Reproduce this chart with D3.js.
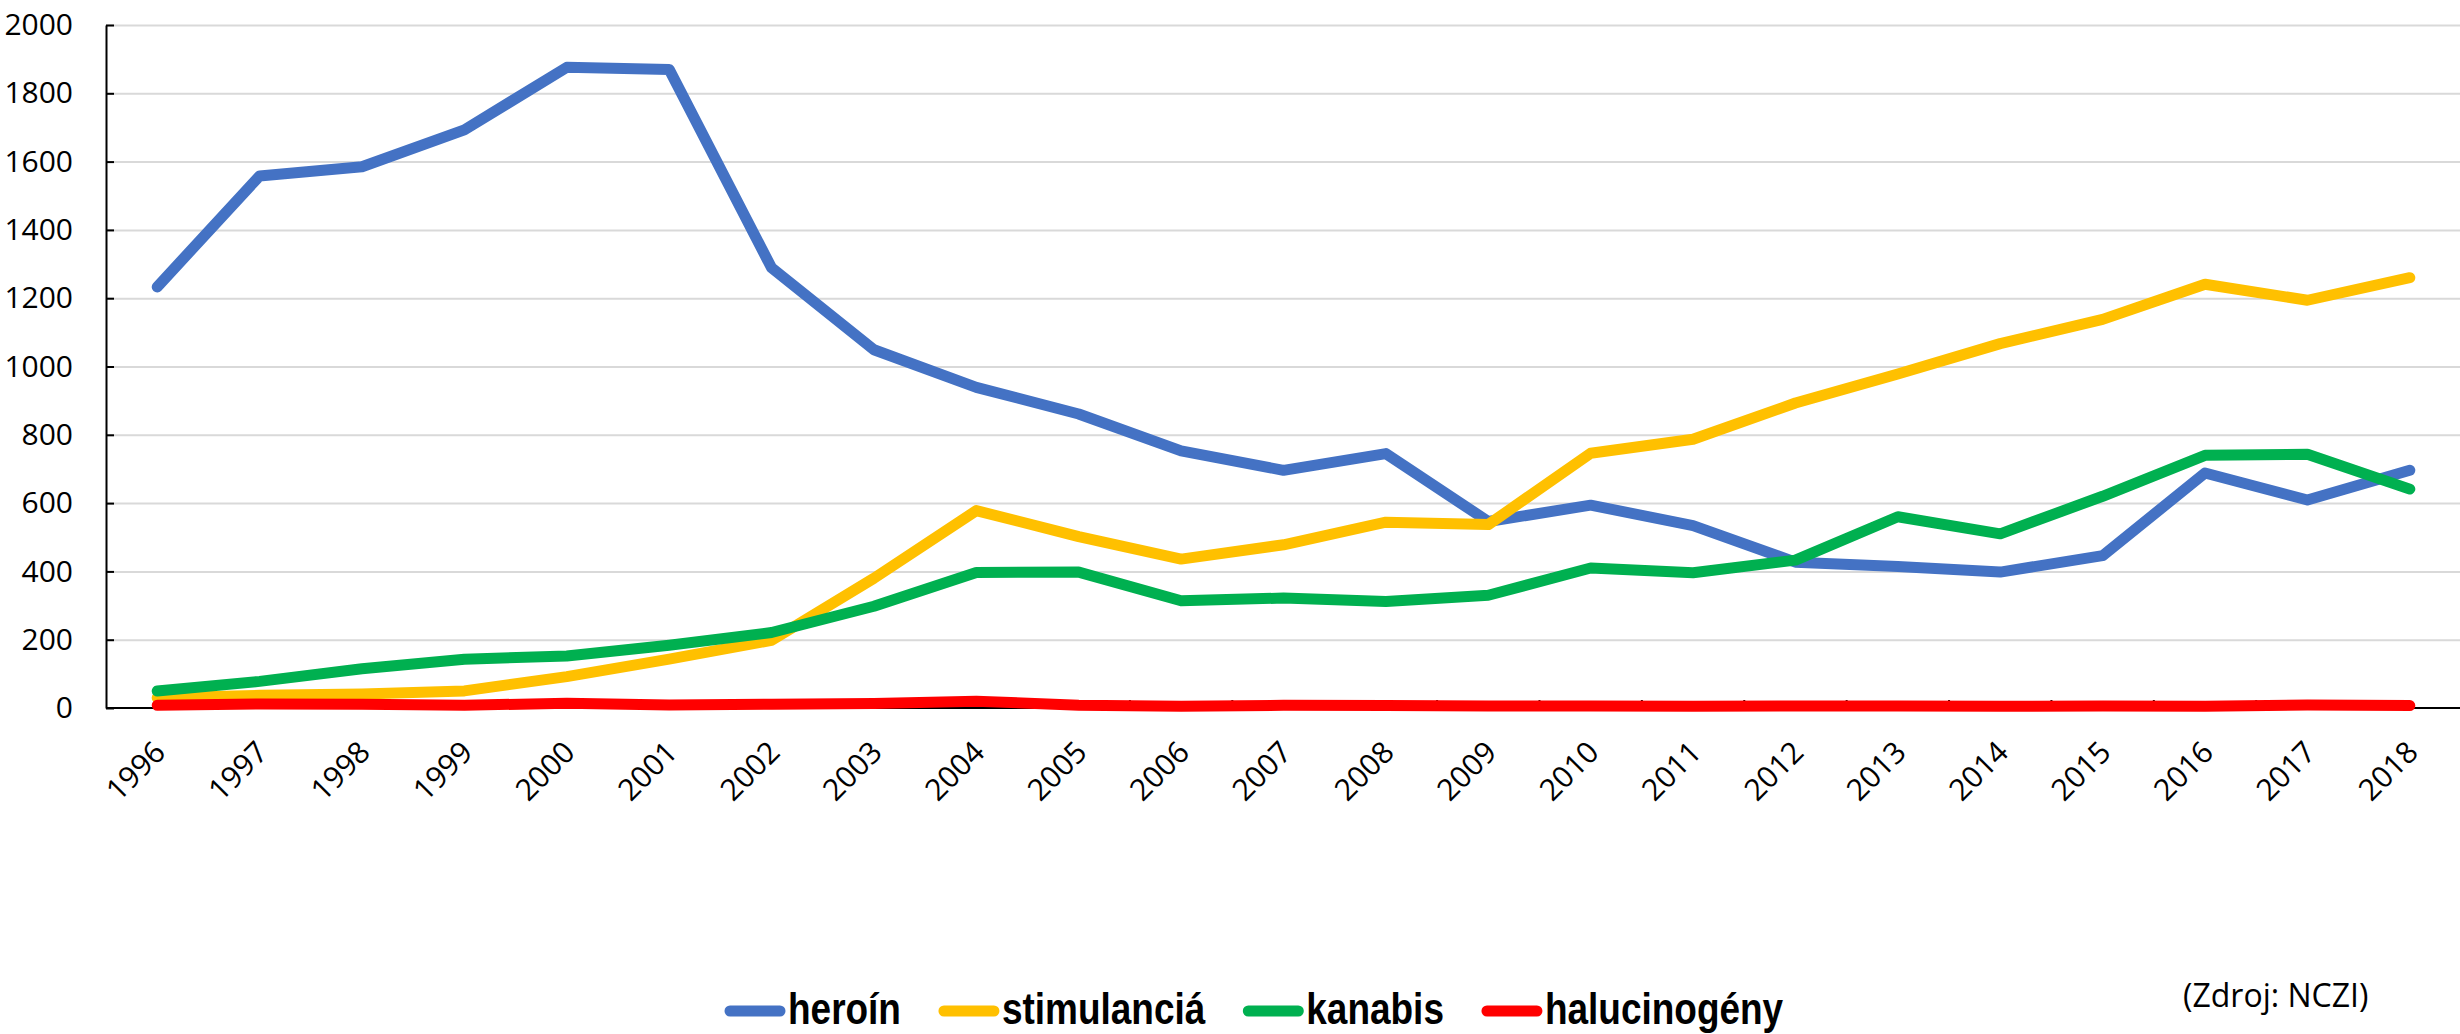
<!DOCTYPE html>
<html>
<head>
<meta charset="utf-8">
<script src="https://cdn.jsdelivr.net/npm/d3@7"></script>
<style>
  html, body { margin: 0; padding: 0; background: #fff; }
  svg { display: block; }
</style>
</head>
<body>
<svg id="chart" width="2460" height="1034"></svg>
<script>
// ---- data ----
const years = ["1996","1997","1998","1999","2000","2001","2002","2003","2004","2005","2006","2007","2008","2009","2010","2011","2012","2013","2014","2015","2016","2017","2018"];
const heroin = [1233,1558,1585,1693,1876,1870,1289,1049,939,861,753,696,745,546,594,534,427,414,398,446,688,609,696];
const stimulancia = [30,37,41,50,92,143,198,380,578,502,436,478,544,537,746,787,893,978,1067,1138,1241,1194,1260];
const kanabis = [50,78,115,143,152,184,221,298,397,398,314,322,312,330,410,396,433,560,510,620,740,743,641];
const halucinogeny = [8,12,11,8,14,9,11,13,20,8,5,8,7,6,6,5,6,6,5,6,5,9,7];
const seriesNames = ["heroín","stimulanciá","kanabis","halucinogény"];
const yTicks = [0,200,400,600,800,1000,1200,1400,1600,1800,2000];
const sourceText = "(Zdroj: NCZI)";

// ---- styling / layout ----
const colors = ["#4472C4","#FFC000","#00B050","#FF0000"];
const seriesData = [heroin, stimulancia, kanabis, halucinogeny];
const plotLeft = 106, plotRight = 2461, plotTop = 25, plotBottom = 708;

const svg = d3.select("#chart");
const x = d3.scaleBand().domain(years).range([plotLeft, plotRight]).padding(0);
const y = d3.scaleLinear().domain([0, 2000]).range([plotBottom, plotTop]);

// gridlines
svg.append("g")
  .attr("transform", `translate(${plotLeft},0)`)
  .call(d3.axisLeft(y).tickValues(yTicks.filter(v => v > 0)).tickSize(-(2460 - plotLeft)).tickFormat(""))
  .call(g => g.select(".domain").remove())
  .call(g => g.selectAll("line").attr("stroke", "#d9d9d9").attr("stroke-width", 2));

// y axis
svg.append("g")
  .attr("transform", `translate(${plotLeft},0)`)
  .call(d3.axisLeft(y).tickValues(yTicks).tickFormat(d3.format("d")).tickSizeInner(-8).tickSizeOuter(0).tickPadding(33))
  .call(g => g.select(".domain").attr("stroke", "#000").attr("stroke-width", 2))
  .call(g => g.selectAll("line").attr("stroke", "#000").attr("stroke-width", 2))
  .call(g => g.selectAll("text").attr("font-family", "'Open Sans'").attr("font-size", 30).attr("fill", "#000"));

// x axis line
const xAxis = svg.append("g");
xAxis.append("line")
  .attr("x1", plotLeft).attr("x2", 2460).attr("y1", y(0)).attr("y2", y(0))
  .attr("stroke", "#000").attr("stroke-width", 2);
xAxis.selectAll("line.tick").data(years.slice(1)).join("line")
  .attr("class", "tick")
  .attr("x1", d => x(d)).attr("x2", d => x(d))
  .attr("y1", y(0)).attr("y2", y(0) - 8)
  .attr("stroke", "#000").attr("stroke-width", 2);
xAxis.selectAll("text").data(years).join("text")
  .attr("transform", d => `translate(${x(d) + x.bandwidth() / 2 + 10},754) rotate(-45)`)
  .attr("text-anchor", "end")
  .attr("font-family", "'Open Sans'").attr("font-size", 30).attr("fill", "#000")
  .text(d => d);

// lines
const line = d3.line()
  .x((d, i) => x(years[i]) + x.bandwidth() / 2)
  .y(d => y(d));
seriesData.forEach((s, k) => {
  svg.append("path")
    .datum(s)
    .attr("d", line)
    .attr("fill", "none")
    .attr("stroke", colors[k])
    .attr("stroke-width", 11)
    .attr("stroke-linecap", "round")
    .attr("stroke-linejoin", "round");
});

// legend
const legend = svg.append("g");
let lx = 725;
const ly = 1011;
seriesNames.forEach((name, k) => {
  legend.append("line")
    .attr("x1", lx + 5).attr("x2", lx + 55).attr("y1", ly).attr("y2", ly)
    .attr("stroke", colors[k]).attr("stroke-width", 11).attr("stroke-linecap", "round");
  const t = legend.append("text")
    .attr("x", lx + 63).attr("y", 1024)
    .attr("font-family", "'Liberation Sans'")
    .attr("font-weight", "bold").attr("font-size", 44).attr("fill", "#000")
    .text(name);
  const w = t.node().getComputedTextLength() * 0.84;
  t.attr("textLength", w).attr("lengthAdjust", "spacingAndGlyphs");
  lx = lx + 63 + w + 38;
});

// source
svg.append("text")
  .attr("x", 2183).attr("y", 1007)
  .attr("font-family", "'Open Sans'").attr("font-size", 32).attr("fill", "#000")
  .text(sourceText);
</script>
</body>
</html>
